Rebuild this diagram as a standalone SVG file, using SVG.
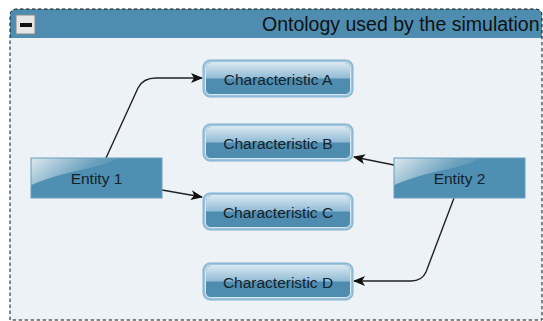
<svg xmlns="http://www.w3.org/2000/svg" width="543" height="321" viewBox="0 0 543 321">
<defs>
<style>
.lbl{font-family:"Liberation Sans",Arial,sans-serif;font-size:15.5px;fill:#15222c;text-anchor:middle}
.title{font-family:"Liberation Sans",Arial,sans-serif;font-size:19.5px;fill:#111}
.conn{fill:none;stroke:#222;stroke-width:1.4}
.char-out{fill:#9fc3da;stroke:#7fb0cf;stroke-width:1}
.ent{fill:#4f8fb1;stroke:#6a9fc0;stroke-width:1}
</style>
<linearGradient id="gTop" x1="0" y1="0" x2="0" y2="1">
<stop offset="0" stop-color="#d6e6f0"/>
<stop offset="1" stop-color="#8fbbd4"/>
</linearGradient>
<linearGradient id="gloss" x1="0" y1="0" x2="1" y2="0.4">
<stop offset="0" stop-color="#ffffff" stop-opacity="0.8"/>
<stop offset="0.7" stop-color="#ffffff" stop-opacity="0.15"/>
<stop offset="1" stop-color="#ffffff" stop-opacity="0.05"/>
</linearGradient>
<marker id="arr" viewBox="0 0 12 10" refX="11" refY="5" markerWidth="12" markerHeight="10" markerUnits="userSpaceOnUse" orient="auto">
<path d="M0,0 L12,5 L0,10 L3,5 Z" fill="#111"/>
</marker>
<g id="charShape">
<rect x="0" y="0" width="150" height="37" rx="7" class="char-out"/>
<rect x="2.5" y="2.5" width="145" height="32" rx="5" fill="#4f8db0" stroke="#d8e8f2" stroke-width="1"/>
<path d="M3,18.5 L3,8 Q3,3 8,3 L142,3 Q147,3 147,8 L147,18.5 Z" fill="url(#gTop)"/>
</g>
</defs>
<g id="container">
<path d="M10,320 L10,16 Q10,9 17,9 L535,9 Q542,9 542,16 L542,320 Z" fill="#edf2f7"/>
<path d="M10,38 L10,16 Q10,9 17,9 L535,9 Q542,9 542,16 L542,38 Z" fill="#4e8db0"/>
<path d="M10,320 L10,16 Q10,9 17,9 L535,9 Q542,9 542,16 L542,320 Z" fill="none" stroke="#111" stroke-width="1" stroke-dasharray="3.5,2.5"/>
<rect x="16" y="15" width="19" height="19" fill="#e6e6e6" stroke="#888" stroke-width="1"/>
<rect x="20" y="23" width="12" height="4" fill="#111"/>
<text class="title" x="262" y="31">Ontology used by the simulation</text>
</g>
<g id="connectors">
<path class="conn" d="M106,158 L138,88 Q143,78 156,78 L202,78" marker-end="url(#arr)"/>
<path class="conn" d="M162,190 L202,197" marker-end="url(#arr)"/>
<path class="conn" d="M394,165 L354,157" marker-end="url(#arr)"/>
<path class="conn" d="M454,198 L426,272 Q422,281 411,281 L354,281" marker-end="url(#arr)"/>
</g>
<g id="charA"><use href="#charShape" x="203" y="60"/><text class="lbl" x="278" y="84.5">Characteristic A</text></g>
<g id="charB"><use href="#charShape" x="203" y="124"/><text class="lbl" x="278" y="148.5">Characteristic B</text></g>
<g id="charC"><use href="#charShape" x="203" y="193"/><text class="lbl" x="278" y="217.5">Characteristic C</text></g>
<g id="charD"><use href="#charShape" x="203" y="263"/><text class="lbl" x="278" y="287.5">Characteristic D</text></g>
<g id="entity1">
<rect x="31" y="158" width="131" height="40" class="ent"/>
<path d="M31.5,158.5 L116,158.5 C104,168 66,170 31.5,185 Z" fill="url(#gloss)"/>
<text class="lbl" x="96.5" y="184">Entity 1</text>
</g>
<g id="entity2">
<rect x="394" y="158" width="131" height="40" class="ent"/>
<path d="M394.5,158.5 L479,158.5 C467,168 429,170 394.5,185 Z" fill="url(#gloss)"/>
<text class="lbl" x="459.5" y="184">Entity 2</text>
</g>
</svg>
